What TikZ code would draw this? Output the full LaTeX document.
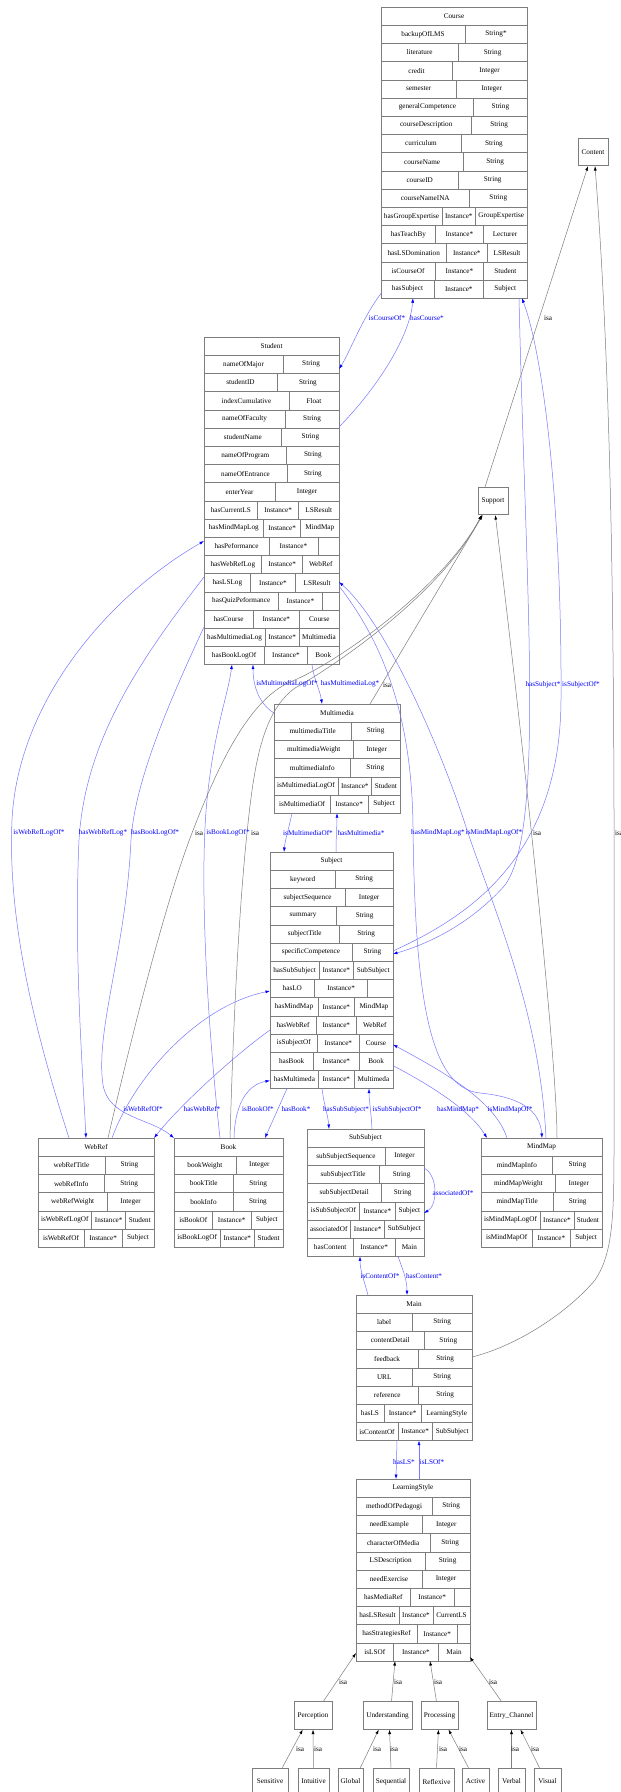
\documentclass[tikz,border=0pt]{standalone}
\usepackage{fontspec}
\setmainfont{Liberation Serif}
\usetikzlibrary{arrows.meta}
\definecolor{OntoLine}{RGB}{125,125,125}
\definecolor{OntoRel}{RGB}{120,120,255}
\definecolor{OntoBlue}{RGB}{0,0,255}
\newcommand\ontofont{\fontsize{7.2}{8.6}\selectfont}
\newcommand\none{}
\newdimen\cwa \newdimen\cwb \newdimen\cwc
\def\rowh{18.2}

% class record: name, left, top, width, title, 2-cell rows, 3-cell rows
\newcommand\classtable[7]{%
  \draw[cell] (#2,#3) rectangle ++(#4,\rowh);
  \node[txt] at (#2+#4/2,#3+\rowh/2) {#5};
  \foreach \fa/\fb [count=\i] in {#6} {
    \node[txt] (probe) at (#2,#3) {\setbox0=\hbox{\fa}\global\cwa=\wd0 \setbox0=\hbox{\fb}\global\cwb=\wd0};
    \pgfmathsetmacro\cxa{\cwa+(#4-\cwa-\cwb)/2}
    \pgfmathsetmacro\rowy{#3+\i*\rowh}
    \draw[cell] (#2,\rowy) rectangle ++(#4,\rowh);
    \draw[cell] (#2+\cxa,\rowy) -- ++(0,\rowh);
    \node[txt] at (#2+\cxa/2,\rowy+\rowh/2) {\fa};
    \node[txt] at (#2+\cxa/2+#4/2,\rowy+\rowh/2) {\fb};
    \xdef\ntwo{\i}
  }
  \pgfmathtruncatemacro\nfrom{\ntwo+1}
  \foreach \fa/\fb/\fc [count=\i from \nfrom] in {#7} {
    \node[txt] (probe) at (#2,#3) {\setbox0=\hbox{\fa}\global\cwa=\wd0 \setbox0=\hbox{\fb}\global\cwb=\wd0 \setbox0=\hbox{\fc}\global\cwc=\wd0};
    \pgfmathsetmacro\wextra{(#4-\cwa-\cwb-\cwc)/3}
    \pgfmathsetmacro\cxa{\cwa+\wextra}
    \pgfmathsetmacro\cxb{\cxa+\cwb+\wextra}
    \pgfmathsetmacro\rowy{#3+\i*\rowh}
    \draw[cell] (#2,\rowy) rectangle ++(#4,\rowh);
    \draw[cell] (#2+\cxa,\rowy) -- ++(0,\rowh) (#2+\cxb,\rowy) -- ++(0,\rowh);
    \node[txt] at (#2+\cxa/2,\rowy+\rowh/2) {\fa};
    \node[txt] at (#2+\cxa/2+\cxb/2,\rowy+\rowh/2) {\fb};
    \node[txt] at (#2+\cxb/2+#4/2,\rowy+\rowh/2) {\fc};
    \xdef\nall{\i}
  }
  \pgfmathsetmacro\tabh{(\nall+1)*\rowh}
  \node[inner sep=0pt, outer sep=0pt, minimum width=#4pt, minimum height=\tabh pt, anchor=north west] (#1) at (#2,#3) {};
}

\begin{document}
\begin{tikzpicture}[
    x={(1pt,0pt)}, y={(0pt,-1pt)},
    cell/.style={draw=OntoLine, line width=0.6pt},
    txt/.style={font=\ontofont, inner sep=0pt},
    box/.style={draw=OntoLine, line width=0.6pt, font=\ontofont, inner sep=0pt, minimum height=27.5pt},
    rel/.style={draw=OntoRel, line width=0.5pt, -{Latex[length=4.5pt,width=3pt,color=OntoBlue]}},
    isa/.style={draw=OntoLine, line width=0.5pt, -{Latex[length=4.5pt,width=3pt,color=black]}},
    lbl/.style={font=\ontofont, text=OntoBlue, inner sep=0pt},
    isalbl/.style={font=\ontofont, inner sep=0pt}
  ]
    \fill[white] (0,0) rectangle (621,1792);
    \useasboundingbox (0,0) rectangle (621,1792);

    % Classes
    \classtable{course}{381}{7}{146}{Course}%
      {backupOfLMS/String*, literature/String, credit/Integer, semester/Integer, generalCompetence/String, courseDescription/String, curriculum/String, courseName/String, courseID/String, courseNameINA/String}%
      {hasGroupExpertise/Instance*/GroupExpertise, hasTeachBy/Instance*/Lecturer, hasLSDomination/Instance*/LSResult, isCourseOf/Instance*/Student, hasSubject/Instance*/Subject}
    \classtable{student}{204}{337}{135}{Student}%
      {nameOfMajor/String, studentID/String, indexCumulative/Float, nameOfFaculty/String, studentName/String, nameOfProgram/String, nameOfEntrance/String, enterYear/Integer}%
      {hasCurrentLS/Instance*/LSResult, hasMindMapLog/Instance*/MindMap, hasPeformance/Instance*/\none, hasWebRefLog/Instance*/WebRef, hasLSLog/Instance*/LSResult, hasQuizPeformance/Instance*/\none, hasCourse/Instance*/Course, hasMultimediaLog/Instance*/Multimedia, hasBookLogOf/Instance*/Book}
    \classtable{multimedia}{274}{704}{126}{Multimedia}%
      {multimediaTitle/String, multimediaWeight/Integer, multimediaInfo/String}%
      {isMultimediaLogOf/Instance*/Student, isMultimediaOf/Instance*/Subject}
    \classtable{subject}{270}{852}{123}{Subject}%
      {keyword/String, subjectSequence/Integer, summary/String, subjectTitle/String, specificCompetence/String}%
      {hasSubSubject/Instance*/SubSubject, hasLO/Instance*/\none, hasMindMap/Instance*/MindMap, hasWebRef/Instance*/WebRef, isSubjectOf/Instance*/Course, hasBook/Instance*/Book, hasMultimeda/Instance*/Multimeda}
    \classtable{webref}{38}{1138}{116}{WebRef}%
      {webRefTitle/String, webRefInfo/String, webRefWeight/Integer}%
      {isWebRefLogOf/Instance*/Student, isWebRefOf/Instance*/Subject}
    \classtable{book}{174}{1138}{109}{Book}%
      {bookWeight/Integer, bookTitle/String, bookInfo/String}%
      {isBookOf/Instance*/Subject, isBookLogOf/Instance*/Student}
    \classtable{subsubject}{307}{1129}{117}{SubSubject}%
      {subSubjectSequence/Integer, subSubjectTitle/String, subSubjectDetail/String}%
      {isSubSubjectOf/Instance*/Subject, associatedOf/Instance*/SubSubject, hasContent/Instance*/Main}
    \classtable{mindmap}{481}{1138}{121}{MindMap}%
      {mindMapInfo/String, mindMapWeight/Integer, mindMapTitle/String}%
      {isMindMapLogOf/Instance*/Student, isMindMapOf/Instance*/Subject}
    \classtable{main}{356}{1295}{116}{Main}%
      {label/String, contentDetail/String, feedback/String, URL/String, reference/String}%
      {hasLS/Instance*/LearningStyle, isContentOf/Instance*/SubSubject}
    \classtable{learningstyle}{356}{1479}{114}{LearningStyle}%
      {methodOfPedagogi/String, needExample/Integer, characterOfMedia/String, LSDescription/String, needExercise/Integer}%
      {hasMediaRef/Instance*/\none, hasLSResult/Instance*/CurrentLS, hasStrategiesRef/Instance*/\none, isLSOf/Instance*/Main}

    % Plain classes
    \node[box, minimum width=30pt] (content) at (593,152) {Content};
    \node[box, minimum width=30pt] (support) at (493,501) {Support};
    \node[box, minimum width=38pt] (perception) at (313,1715.5) {Perception};
    \node[box, minimum width=49pt] (understanding) at (387.5,1715.5) {Understanding};
    \node[box, minimum width=37pt] (processing) at (439.5,1715.5) {Processing};
    \node[box, minimum width=49pt] (entry) at (511.5,1715.5) {Entry\_Channel};
    \node[box, minimum width=36pt, minimum height=27pt] (sensitive) at (270,1781.5) {Sensitive};
    \node[box, minimum width=31pt, minimum height=27pt] (intuitive) at (313.5,1781.5) {Intuitive};
    \node[box, minimum width=25pt, minimum height=27pt] (global) at (350.5,1781.5) {Global};
    \node[box, minimum width=36pt, minimum height=27pt] (sequential) at (391,1781.5) {Sequential};
    \node[box, minimum width=35pt, minimum height=27pt] (reflexive) at (436.5,1781.5) {Reflexive};
    \node[box, minimum width=27pt, minimum height=27pt] (active) at (475.5,1781.5) {Active};
    \node[box, minimum width=27pt, minimum height=27pt] (verbal) at (511.5,1781.5) {Verbal};
    \node[box, minimum width=27pt, minimum height=27pt] (visual) at (547.5,1781.5) {Visual};

    % Course and Student
    \draw[rel] ([xshift=1pt,yshift=6pt]course.south west) .. controls (362,318) and (350,352) .. ([yshift=-32pt]student.north east);
    \draw[rel] ([yshift=-90pt]student.north east) .. controls (380,385) and (410,335) .. ([xshift=32pt]course.south west);
    % Course and Subject
    \draw[rel] ([xshift=-8pt]course.south east) .. controls (526,600) and (545,830) .. (505,885) .. controls (470,925) and (425,945) .. ([yshift=-102pt]subject.north east);
    \draw[rel] ([yshift=-99pt]subject.north east) .. controls (465,918) and (560,860) .. (561,700) .. controls (562,520) and (545,360) .. ([xshift=-5pt]course.south east);
    % Student and Multimedia
    \draw[rel] ([yshift=-9pt]multimedia.north west) .. controls (262,706) and (253,690) .. ([xshift=49pt]student.south west);
    \draw[rel] ([xshift=108pt]student.south west) .. controls (314,680) and (320,690) .. ([xshift=48pt]multimedia.north west);
    % Multimedia and Subject
    \draw[rel] ([xshift=18pt]multimedia.south west) .. controls (289,828) and (285,840) .. ([xshift=14pt]subject.north west);
    \draw[rel] ([xshift=66pt]subject.north west) .. controls (336,838) and (337,826) .. ([xshift=63pt]multimedia.south west);
    % Student and MindMap
    \draw[rel] ([yshift=-249pt]student.north east) .. controls (385,645) and (412,720) .. (413,827) .. controls (415,1000) and (430,1088) .. (480,1093) .. controls (520,1097) and (540,1110) .. ([xshift=61pt]mindmap.north west);
    \draw[rel] ([xshift=65pt]mindmap.north west) .. controls (540,1010) and (492,905) .. (467,830) .. controls (440,745) and (385,622) .. ([yshift=-245pt]student.north east);
    % Subject and MindMap
    \draw[rel] ([yshift=23pt]subject.south east) .. controls (430,1085) and (470,1110) .. ([xshift=6pt]mindmap.north west);
    \draw[rel] ([xshift=26pt]mindmap.north west) .. controls (495,1100) and (440,1070) .. ([yshift=44pt]subject.south east);
    % Subject and SubSubject
    \draw[rel] ([xshift=52pt]subject.south west) .. controls (324,1105) and (328,1115) .. ([xshift=22pt]subsubject.north west);
    \draw[rel] ([xshift=65pt]subsubject.north west) .. controls (371,1110) and (369,1100) .. ([xshift=99pt]subject.south west);
    \draw[rel] ([yshift=-39pt]subsubject.north east) .. controls (438,1175) and (438,1205) .. ([yshift=-84pt]subsubject.north east);
    % SubSubject and Main
    \draw[rel] ([xshift=12pt]main.north west) .. controls (364,1280) and (360,1270) .. ([xshift=53pt]subsubject.south west);
    \draw[rel] ([xshift=91pt]subsubject.south west) .. controls (403,1270) and (407,1280) .. ([xshift=51pt]main.north west);
    % Main and LearningStyle
    \draw[rel] ([xshift=41pt]main.south west) -- ([xshift=40pt]learningstyle.north west);
    \draw[rel] ([xshift=63pt]learningstyle.north west) -- ([xshift=63pt]main.south west);
    % Student and WebRef, Book
    \draw[rel] ([xshift=31pt]webref.north west) .. controls (28,1010) and (8,910) .. (12,820) .. controls (18,700) and (110,595) .. ([yshift=-204pt]student.north west);
    \draw[rel] ([yshift=-240pt]student.north west) .. controls (140,660) and (85,740) .. (79,840) .. controls (74,950) and (82,1060) .. ([xshift=48pt]webref.north west);
    \draw[rel] ([yshift=-290pt]student.north west) .. controls (170,700) and (135,780) .. (131,840) .. controls (126,950) and (95,1030) .. (103,1085) .. controls (109,1118) and (150,1118) .. (book.north west);
    \draw[rel] ([xshift=46pt]book.north west) .. controls (205,1000) and (200,870) .. (207,800) .. controls (214,730) and (228,695) .. ([xshift=28pt]student.south west);
    % Subject and WebRef, Book
    \draw[rel] ([xshift=74pt]webref.north west) .. controls (135,1075) and (200,1005) .. ([yshift=-139pt]subject.north west);
    \draw[rel] ([yshift=-178pt]subject.north west) .. controls (235,1055) and (180,1105) .. (webref.north east);
    \draw[rel] ([xshift=60pt]book.north west) .. controls (235,1100) and (250,1084) .. ([yshift=8pt]subject.south west);
    \draw[rel] ([xshift=17pt]subject.south west) -- ([xshift=-18pt]book.north east);

    % isa links
    \draw[isa] ([xshift=70pt]webref.north west) .. controls (140,1000) and (170,890) .. (192,833) .. controls (220,760) and (250,700) .. (290,682) .. controls (340,662) and (445,585) .. ([xshift=4pt]support.south west);
    \draw[isa] ([xshift=56pt]book.north west) .. controls (234,1000) and (240,900) .. (247,833) .. controls (254,765) and (262,712) .. (295,688) .. controls (345,660) and (445,588) .. ([xshift=4pt]support.south west);
    \draw[isa] ([xshift=-30pt]multimedia.north east) -- ([xshift=5pt]support.south west);
    \draw[isa] ([xshift=76pt]mindmap.north west) .. controls (557,1060) and (525,760) .. ([xshift=-13pt]support.south east);
    \draw[isa] ([xshift=-8pt]support.north) -- ([xshift=-5pt]content.south);
    \draw[isa] ([yshift=-62pt]main.north east) .. controls (520,1345) and (570,1310) .. (595,1280) .. controls (612,1255) and (614,1220) .. (614,1150) .. controls (614,800) and (617,450) .. ([xshift=2pt]content.south);
    \draw[isa] ([xshift=-9pt]perception.north east) -- ([yshift=8pt]learningstyle.south west);
    \draw[isa] ([xshift=4pt]understanding.north) -- ([xshift=39pt]learningstyle.south west);
    \draw[isa] ([xshift=-3pt]processing.north) -- ([xshift=74pt]learningstyle.south west);
    \draw[isa] ([xshift=-10pt]entry.north) -- ([yshift=4pt]learningstyle.south east);
    \draw[isa] ([xshift=-6pt]sensitive.north east) -- ([xshift=9pt]perception.south west);
    \draw[isa] (intuitive.north) -- (perception.south);
    \draw[isa] ([xshift=-3pt]global.north east) -- ([xshift=16pt]understanding.south west);
    \draw[isa] (sequential.north) -- ([xshift=2pt]understanding.south);
    \draw[isa] (reflexive.north) -- ([xshift=-1pt]processing.south);
    \draw[isa] ([xshift=-7pt]active.north) -- ([xshift=9pt]processing.south);
    \draw[isa] (verbal.north) -- (entry.south);
    \draw[isa] ([xshift=-8pt]visual.north) -- ([xshift=9pt]entry.south);

    % Labels
    \node[lbl] (l-iscourseof) at (387,318) {isCourseOf*};
    \node[lbl] (l-hascourse) at (427,318) {hasCourse*};
    \node[lbl] (l-hassubject) at (543,685) {hasSubject*};
    \node[lbl] (l-issubjectof) at (581,685) {isSubjectOf*};
    \node[lbl] (l-ismmlogof) at (287,684) {isMultimediaLogOf*};
    \node[lbl] (l-hasmmlog) at (350,684) {hasMultimediaLog*};
    \node[lbl] (l-ismmof) at (308,833) {isMultimediaOf*};
    \node[lbl] (l-hasmm) at (361,833) {hasMultimedia*};
    \node[lbl] (l-hasmindmaplog) at (438,833) {hasMindMapLog*};
    \node[lbl] (l-ismindmaplogof) at (494,833) {isMindMapLogOf*};
    \node[lbl] (l-iswebreflogof) at (39,833) {isWebRefLogOf*};
    \node[lbl] (l-haswebreflog) at (103,833) {hasWebRefLog*};
    \node[lbl] (l-hasbooklogof) at (155,833) {hasBookLogOf*};
    \node[lbl] (l-isbooklogof) at (228,833) {isBookLogOf*};
    \node[lbl] (l-iswebrefof) at (143,1109) {isWebRefOf*};
    \node[lbl] (l-haswebref) at (202,1109) {hasWebRef*};
    \node[lbl] (l-isbookof) at (258,1109) {isBookOf*};
    \node[lbl] (l-hasbook) at (296,1109) {hasBook*};
    \node[lbl] (l-hassubsubject) at (346,1110) {hasSubSubject*};
    \node[lbl] (l-issubsubjectof) at (397,1110) {isSubSubjectOf*};
    \node[lbl] (l-hasmindmap) at (458,1110) {hasMindMap*};
    \node[lbl] (l-ismindmapof) at (510,1110) {isMindMapOf*};
    \node[lbl] (l-associatedof) at (453,1193) {associatedOf*};
    \node[lbl] (l-iscontentof) at (380,1276) {isContentOf*};
    \node[lbl] (l-hascontent) at (424,1276) {hasContent*};
    \node[lbl] (l-hasls) at (404,1462) {hasLS*};
    \node[lbl] (l-islsof) at (432,1462) {isLSOf*};
    \node[isalbl] (i-support) at (548,318) {isa};
    \node[isalbl] (i-multimedia) at (387,685) {isa};
    \node[isalbl] (i-webref) at (199,833) {isa};
    \node[isalbl] (i-book) at (255,833) {isa};
    \node[isalbl] (i-mindmap) at (537,833) {isa};
    \node[isalbl] (i-main) at (619,833) {isa};
    \node[isalbl] (i-perception) at (343,1682) {isa};
    \node[isalbl] (i-understanding) at (398,1682) {isa};
    \node[isalbl] (i-processing) at (438,1682) {isa};
    \node[isalbl] (i-entry) at (493,1682) {isa};
    \node[isalbl] (i-sensitive) at (300,1749) {isa};
    \node[isalbl] (i-intuitive) at (318,1749) {isa};
    \node[isalbl] (i-global) at (377,1749) {isa};
    \node[isalbl] (i-sequential) at (394,1749) {isa};
    \node[isalbl] (i-reflexive) at (443,1749) {isa};
    \node[isalbl] (i-active) at (463,1749) {isa};
    \node[isalbl] (i-verbal) at (515,1749) {isa};
    \node[isalbl] (i-visual) at (535,1749) {isa};
\end{tikzpicture}
\end{document}
